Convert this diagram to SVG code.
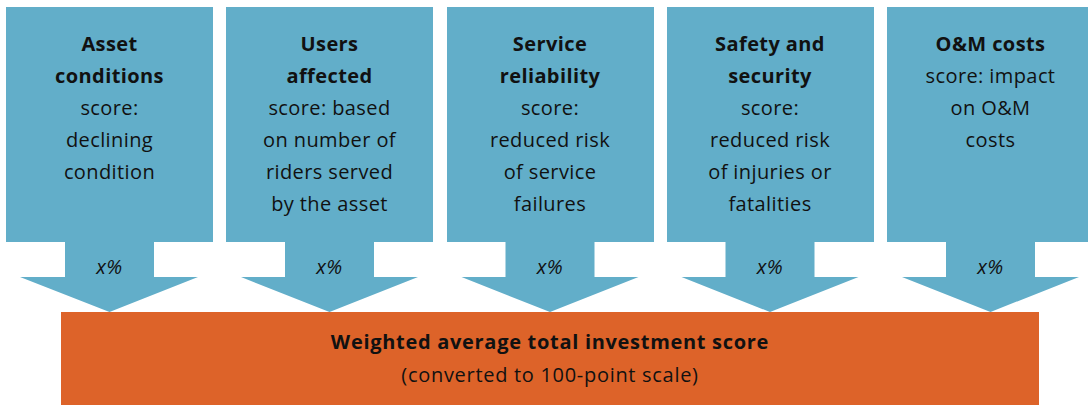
<svg xmlns="http://www.w3.org/2000/svg" width="1088" height="405" viewBox="0 0 1088 405">
<style>
.box{fill:#62aec9}
.arr{fill:#62aec9}
.t{font-family:"Open Sans","Liberation Sans",sans-serif;font-size:20px;fill:#111;text-anchor:middle;letter-spacing:0.4px}
.b{font-weight:bold}
.p{font-style:italic}
.w{letter-spacing:0.7px}
.total{fill:#dd6329}
</style>
<rect width="1088" height="405" fill="#fff"/>
<g id="connectors">
<path class="arr" d="M65,241 H154 V277 H198 L109.5,312 L20,277 H65 Z"/>
<path class="arr" d="M285,241 H374 V277 H418 L329.5,312 L241,277 H285 Z"/>
<path class="arr" d="M505.5,241 H594.5 V277 H638.5 L550,312 L461.5,277 H505.5 Z"/>
<path class="arr" d="M725.5,241 H814.5 V277 H858.5 L770,312 L681.5,277 H725.5 Z"/>
<path class="arr" d="M946,241 H1035 V277 H1079 L990.5,312 L902,277 H946 Z"/>
</g>
<g id="n1">
<rect class="box" x="6" y="7" width="207" height="235"/>
<text class="t b" x="109.5" y="51">Asset</text>
<text class="t b" x="109.5" y="83">conditions</text>
<text class="t" x="109.5" y="115">score:</text>
<text class="t" x="109.5" y="147">declining</text>
<text class="t" x="109.5" y="179">condition</text>
<text class="t p" x="109.5" y="274">x%</text>
</g>
<g id="n2">
<rect class="box" x="226" y="7" width="207" height="235"/>
<text class="t b" x="329.5" y="51">Users</text>
<text class="t b" x="329.5" y="83">affected</text>
<text class="t" x="329.5" y="115">score: based</text>
<text class="t" x="329.5" y="147">on number of</text>
<text class="t" x="329.5" y="179">riders served</text>
<text class="t" x="329.5" y="211">by the asset</text>
<text class="t p" x="329.5" y="274">x%</text>
</g>
<g id="n3">
<rect class="box" x="447" y="7" width="207" height="235"/>
<text class="t b" x="550" y="51">Service</text>
<text class="t b" x="550" y="83">reliability</text>
<text class="t" x="550" y="115">score:</text>
<text class="t" x="550" y="147">reduced risk</text>
<text class="t" x="550" y="179">of service</text>
<text class="t" x="550" y="211">failures</text>
<text class="t p" x="550" y="274">x%</text>
</g>
<g id="n4">
<rect class="box" x="667" y="7" width="207" height="235"/>
<text class="t b" x="770" y="51">Safety and</text>
<text class="t b" x="770" y="83">security</text>
<text class="t" x="770" y="115">score:</text>
<text class="t" x="770" y="147">reduced risk</text>
<text class="t" x="770" y="179">of injuries or</text>
<text class="t" x="770" y="211">fatalities</text>
<text class="t p" x="770" y="274">x%</text>
</g>
<g id="n5">
<rect class="box" x="887" y="7" width="207" height="235"/>
<text class="t b" x="990.5" y="51">O&amp;M costs</text>
<text class="t" x="990.5" y="83">score: impact</text>
<text class="t" x="990.5" y="115">on O&amp;M</text>
<text class="t" x="990.5" y="147">costs</text>
<text class="t p" x="990.5" y="274">x%</text>
</g>
<g id="total">
<rect class="total" x="61" y="312" width="978" height="93"/>
<text class="t b w" x="550" y="349">Weighted average total investment score</text>
<text class="t w" x="550" y="382">(converted to 100-point scale)</text>
</g>
</svg>
